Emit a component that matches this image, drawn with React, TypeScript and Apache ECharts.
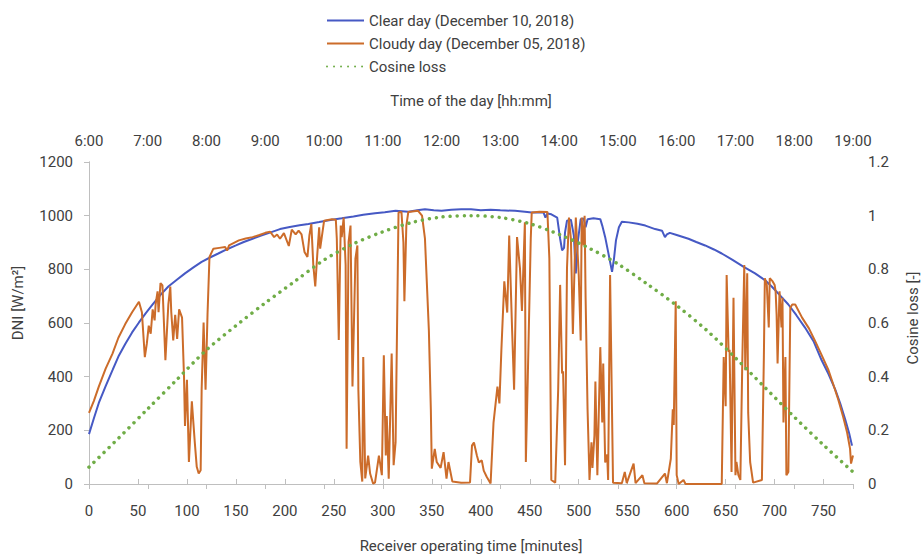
import React, { useEffect, useRef } from "react";
import * as echarts from "echarts";

// ---- Data ----
const clearTime = [0,5,10,17,24,30,37,44,51,58,65,73,81,90,98,107,115,124,132,141,150,158,167,175,184,195,205,215,224,235,245,258,270,280,292,302,313,326,335,343,352,360,370,380,390,400,410,420,435,445,452,464,466,468,472,478,481,483,485,486,488,492,495,497,499,502,505,507,509,515,522,524,527,530,532,534,536,538,541,544,551,560,568,578,585,588,590,593,600,612,620,629,638,646,657,668,680,690,697,705,714,722,731,740,748,755,762,767,772,776,779];
const clearDni = [186,245,302,365,424,475,522,565,602,637,669,705,736,762,785,808,828,845,859,875,889,902,914,925,936,950,958,964,969,976,983,990,997,1003,1009,1013,1018,1015,1020,1024,1020,1018,1022,1024,1024,1020,1022,1020,1018,1015,1012,1012,993,1008,1005,993,914,871,880,938,981,985,926,785,901,987,990,957,987,990,987,963,920,865,828,791,840,908,957,977,975,970,963,950,944,920,930,936,928,914,902,889,874,859,835,810,785,760,736,705,669,630,583,530,461,410,351,300,241,190,143];

const cloudyTime = [0,5,10,17,24,30,37,44,51,54,57,59,61,63,65,67,68,70,71,73,75,78,81,83,84,86,88,90,92,95,97,98,100,102,105,108,110,112,114,115,117,119,121,123,127,133,139,141,143,153,160,167,174,180,185,189,192,195,199,204,207,211,214,217,220,223,225,227,229,231,233,235,236,240,248,252,253,255,257,258,260,262,263,265,267,269,272,274,275,277,279,280,282,285,287,290,292,296,299,301,303,304,306,309,311,313,316,319,321,322,324,326,336,340,343,347,349,350,353,355,359,362,365,367,371,380,389,391,393,396,398,401,403,406,410,413,417,419,421,424,427,429,432,434,437,440,442,445,446,448,451,452,460,468,470,472,476,479,481,483,484,486,488,490,492,494,497,499,500,502,503,505,506,507,509,511,513,514,516,517,519,522,524,525,527,529,530,532,535,544,547,549,556,558,565,567,580,588,590,594,596,597,599,600,602,607,609,646,648,650,651,653,654,656,658,660,661,663,665,667,669,670,672,673,675,678,687,689,690,692,694,695,698,700,701,702,703,705,707,708,709,711,712,714,716,718,721,728,735,741,748,755,760,765,770,774,777,778,780];
const cloudyDni = [265,310,363,430,486,545,596,640,679,640,473,522,590,560,651,610,669,718,640,749,740,461,669,736,640,535,630,541,651,620,400,216,388,82,308,155,64,39,51,351,602,351,632,846,877,880,883,870,889,908,915,920,928,936,940,920,930,914,935,887,948,930,944,930,865,846,926,969,816,736,852,957,877,981,987,985,914,537,963,920,993,816,131,901,963,363,840,889,351,82,9,473,21,106,39,2,5,106,33,480,106,253,20,486,70,155,1012,1014,900,681,963,1014,1018,1000,914,571,278,57,131,82,60,119,20,82,9,5,6,143,155,106,80,88,50,27,2,229,363,300,498,755,639,926,571,351,920,804,645,975,82,400,914,1012,1015,1014,840,15,5,351,742,412,420,70,804,993,914,559,993,850,779,535,993,889,1000,694,278,15,155,60,180,382,33,510,229,449,80,110,15,779,5,3,45,3,76,3,33,3,2,39,3,94,278,220,681,33,0,15,0,0,473,290,779,492,500,45,694,33,82,33,15,461,816,424,785,265,82,5,15,473,767,742,583,767,755,742,718,632,449,718,583,694,229,473,33,45,657,669,669,620,580,535,480,424,370,314,250,192,131,76,106];

const cosineTime = [0,30,60,90,120,150,180,210,240,270,300,330,360,390,420,450,480,510,540,570,600,630,660,690,720,750,780];
const cosineVal = [0.063,0.17,0.28,0.39,0.5,0.59,0.675,0.755,0.835,0.895,0.94,0.975,0.995,1.0,0.993,0.97,0.93,0.88,0.82,0.745,0.665,0.575,0.47,0.36,0.25,0.145,0.045];

const seriesNames = [
  "Clear day (December 10, 2018)",
  "Cloudy day (December 05, 2018)",
  "Cosine loss",
];
const topStartHour = 6;

const FONT = "Roboto";
const TXT = "#404040";
const AXIS = "#bfbfbf";

function zip(a: number[], b: number[]) {
  return a.map((t, i) => [t, b[i]]);
}

export default function App() {
  const ref = useRef<HTMLDivElement>(null);
  useEffect(() => {
    if (!ref.current) return;
    const chart = echarts.init(ref.current, undefined, { renderer: "svg" });
    const labelStyle = { fontFamily: FONT, fontSize: 15, color: TXT };
    chart.setOption({
      animation: false,
      backgroundColor: "#ffffff",
      textStyle: { fontFamily: FONT },
      grid: { left: 89, right: 71, top: 162, bottom: 69 },
      legend: {
        orient: "vertical",
        left: 321,
        top: 8,
        itemWidth: 37,
        itemHeight: 14,
        itemGap: 8,
        itemStyle: { opacity: 0 },
        textStyle: { fontFamily: FONT, fontSize: 15, color: TXT },
        data: seriesNames,
      },
      xAxis: [
        {
          type: "value",
          position: "bottom",
          min: 0,
          max: 780,
          interval: 50,
          axisLine: { show: true, lineStyle: { color: AXIS, width: 1 } },
          axisTick: { show: true, inside: true, length: 5, lineStyle: { color: AXIS } },
          axisLabel: { ...labelStyle, margin: 19, showMaxLabel: false, formatter: (v: number) => String(v) },
          splitLine: { show: false },
          name: "Receiver operating time [minutes]",
          nameLocation: "middle",
          nameGap: 54,
          nameTextStyle: { fontFamily: FONT, fontSize: 15, color: TXT },
        },
        {
          type: "value",
          position: "top",
          min: 0,
          max: 780,
          interval: 60,
          axisLine: { show: true, lineStyle: { color: AXIS, width: 1 } },
          axisTick: { show: true, inside: true, length: 5, lineStyle: { color: AXIS } },
          axisLabel: {
            ...labelStyle,
            margin: 14,
            formatter: (v: number) => `${topStartHour + Math.round(v / 60)}:00`,
          },
          splitLine: { show: false },
          name: "Time of the day [hh:mm]",
          nameLocation: "middle",
          nameGap: 54,
          nameTextStyle: { fontFamily: FONT, fontSize: 15, color: TXT },
        },
      ],
      yAxis: [
        {
          type: "value",
          position: "left",
          min: 0,
          max: 1200,
          interval: 200,
          axisLine: { show: true, lineStyle: { color: AXIS, width: 1 } },
          axisTick: { show: false },
          axisLabel: { ...labelStyle, margin: 16, formatter: (v: number) => String(v) },
          splitLine: { show: false },
        },
        {
          type: "value",
          position: "right",
          min: 0,
          max: 1.2,
          interval: 0.2,
          axisLine: { show: true, lineStyle: { color: AXIS, width: 1 } },
          axisTick: { show: true, inside: true, length: 5, lineStyle: { color: AXIS } },
          axisLabel: { ...labelStyle, margin: 15, formatter: (v: number) => String(Math.round(v * 10) / 10) },
          splitLine: { show: false },
        },
      ],
      graphic: [
        {
          type: "text",
          x: 18,
          y: 303,
          rotation: Math.PI / 2,
          style: {
            text: "DNI [W/m²]",
            fontFamily: FONT,
            fontSize: 15,
            fill: TXT,
            align: "center",
            verticalAlign: "middle",
          },
        },
        {
          type: "text",
          x: 913,
          y: 318,
          rotation: Math.PI / 2,
          style: {
            text: "Cosine loss [-]",
            fontFamily: FONT,
            fontSize: 15,
            fill: TXT,
            align: "center",
            verticalAlign: "middle",
          },
        },
      ],
      series: [
        {
          name: seriesNames[0],
          type: "line",
          xAxisIndex: 0,
          yAxisIndex: 0,
          data: zip(clearTime, clearDni),
          showSymbol: false,
          symbol: "none",
          color: "#4659c4",
          lineStyle: { width: 2, color: "#4659c4" },
        },
        {
          name: seriesNames[1],
          type: "line",
          xAxisIndex: 0,
          yAxisIndex: 0,
          data: zip(cloudyTime, cloudyDni),
          showSymbol: false,
          symbol: "none",
          color: "#cc6c2a",
          lineStyle: { width: 2, color: "#cc6c2a" },
        },
        {
          name: seriesNames[2],
          type: "line",
          xAxisIndex: 0,
          yAxisIndex: 1,
          data: zip(cosineTime, cosineVal),
          showSymbol: false,
          symbol: "none",
          smooth: 0.3,
          color: "#70ad47",
          lineStyle: { width: 3.5, color: "#70ad47", type: [0.01, 7], cap: "round" },
        },
      ],
    });
    return () => chart.dispose();
  }, []);
  return (
    <div
      ref={ref}
      style={{ position: "fixed", left: 0, top: 0, width: 924, height: 558, background: "#fff" }}
    />
  );
}
